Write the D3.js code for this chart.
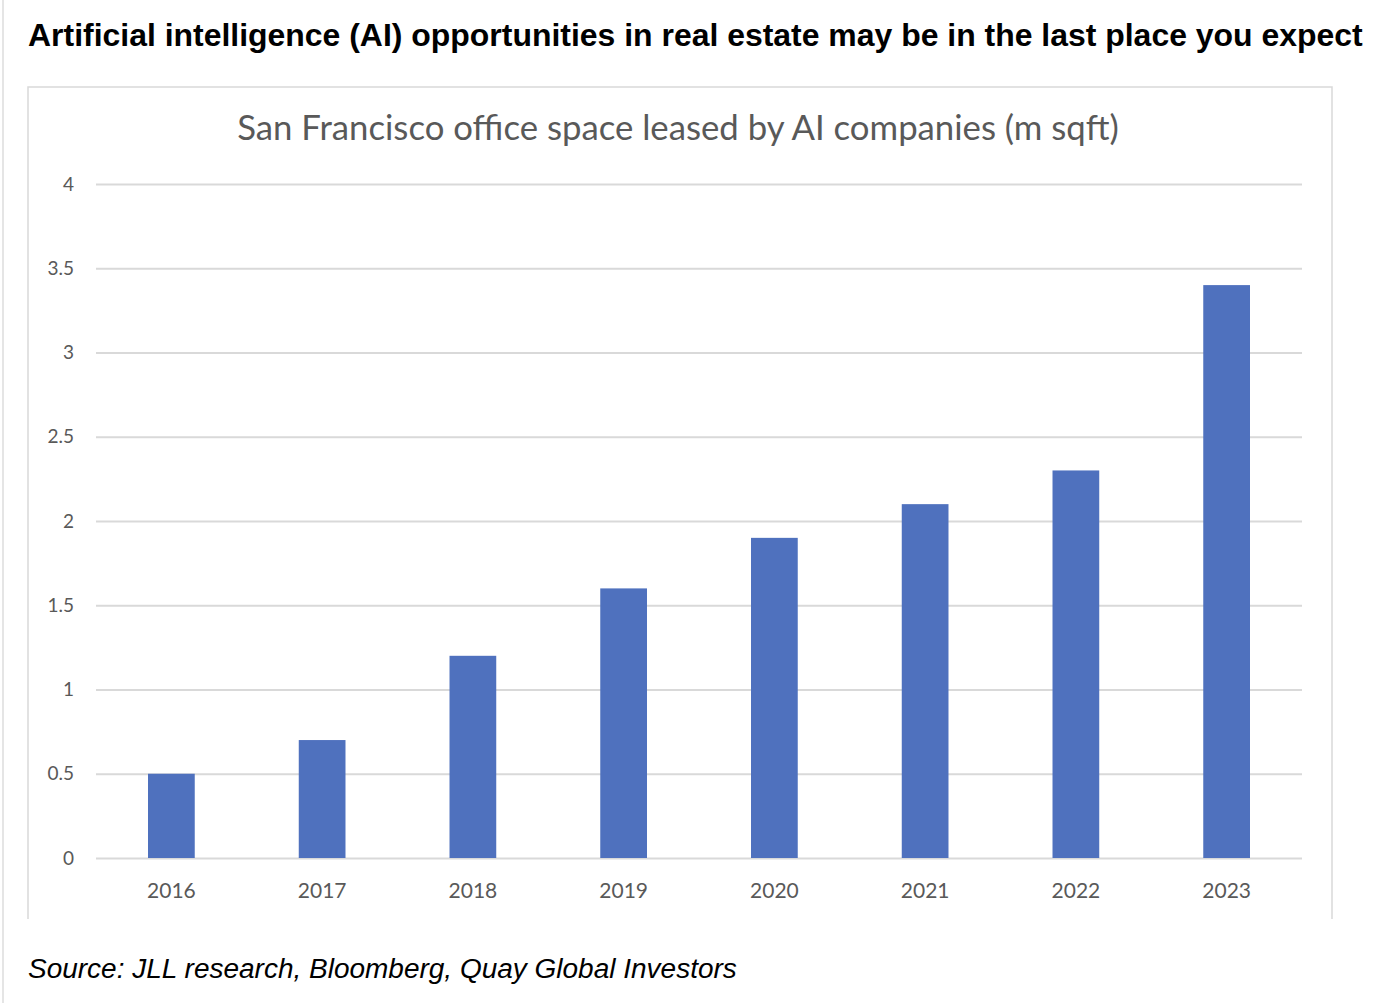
<!DOCTYPE html>
<html>
<head>
<meta charset="utf-8">
<script src="https://cdn.jsdelivr.net/npm/d3@7"></script>
<style>
  body { margin: 0; background: #fff; }
</style>
</head>
<body>
<svg id="chart" width="1389" height="1003"></svg>
<script>
// values
const years = ['2016', '2017', '2018', '2019', '2020', '2021', '2022', '2023'];
const leased = [0.5, 0.7, 1.2, 1.6, 1.9, 2.1, 2.3, 3.4];
const yTicks = [0, 0.5, 1, 1.5, 2, 2.5, 3, 3.5, 4];

const headline = 'Artificial intelligence (AI) opportunities in real estate may be in the last place you expect';
const chartTitle = 'San Francisco office space leased by AI companies (m sqft)';
const source = 'Source: JLL research, Bloomberg, Quay Global Investors';

const svg = d3.select('#chart');
const plot = { left: 96, right: 1302, top: 184, bottom: 858 };
const box = { left: 28, right: 1332, top: 87, bottom: 919 };

// fit text to a target width
const fit = (sel, w) => {
	const len = sel.node().getComputedTextLength();
	const fs = parseFloat(sel.attr('font-size'));
	sel.attr('font-size', fs * w / len);
};

// page rule on the left
svg.append('line')
	.attr('x1', 3).attr('x2', 3)
	.attr('y1', 0).attr('y2', 1003)
	.attr('stroke', '#dcdcdc').attr('stroke-width', 1.5);

const h1 = svg.append('text')
	.attr('x', 28).attr('y', 46)
	.attr('font-family', 'Liberation Sans, Arial, sans-serif')
	.attr('font-weight', 'bold')
	.attr('font-size', 29)
	.attr('fill', '#000')
	.text(headline);
fit(h1, 1335);

// chart frame (no bottom edge, like the clipped screenshot)
svg.append('path')
	.attr('d', `M${ box.left },${ box.bottom }V${ box.top }H${ box.right }V${ box.bottom }`)
	.attr('fill', 'none')
	.attr('stroke', '#d9d9d9')
	.attr('stroke-width', 1.5);

const ct = svg.append('text')
	.attr('x', 678).attr('y', 140)
	.attr('text-anchor', 'middle')
	.attr('font-family', 'Lato, sans-serif')
	.attr('font-size', 32)
	.attr('fill', '#595959')
	.text(chartTitle);
fit(ct, 882);

const x = d3.scaleBand()
	.domain(years)
	.range([plot.left, plot.right])
	.paddingInner(0.69)
	.paddingOuter(0.345);

const y = d3.scaleLinear()
	.domain([0, 4])
	.range([plot.bottom, plot.top]);

// gridlines + y labels
const yAxis = svg.append('g')
	.attr('transform', `translate(${ plot.left },0)`)
	.call(d3.axisLeft(y).tickValues(yTicks)
		.tickSize(-(plot.right - plot.left))
		.tickPadding(22)
		.tickFormat(d3.format('')));
yAxis.select('.domain').remove();
yAxis.selectAll('line').attr('stroke', '#d9d9d9').attr('stroke-width', 2);
yAxis.selectAll('text')
	.attr('font-family', 'Lato, sans-serif')
	.attr('font-size', 19)
	.attr('fill', '#595959');

const data = years.map((d, i) => ({ year: d, value: leased[i] }));

svg.append('g').selectAll('rect')
	.data(data)
	.enter()
	.append('rect')
	.attr('x', (d) => x(d.year))
	.attr('width', x.bandwidth())
	.attr('y', (d) => y(d.value))
	.attr('height', (d) => y(0) - y(d.value))
	.attr('fill', '#4f71be');

// x labels
const xAxis = svg.append('g')
	.attr('transform', `translate(0,${ plot.bottom })`)
	.call(d3.axisBottom(x).tickSize(0).tickPadding(25));
xAxis.select('.domain').remove();
xAxis.selectAll('text')
	.attr('font-family', 'Lato, sans-serif')
	.attr('font-size', 21)
	.attr('fill', '#595959');

const src = svg.append('text')
	.attr('x', 28).attr('y', 978)
	.attr('font-family', 'Liberation Sans, Arial, sans-serif')
	.attr('font-style', 'italic')
	.attr('font-size', 26)
	.attr('fill', '#000')
	.text(source);
fit(src, 709);
</script>
</body>
</html>
